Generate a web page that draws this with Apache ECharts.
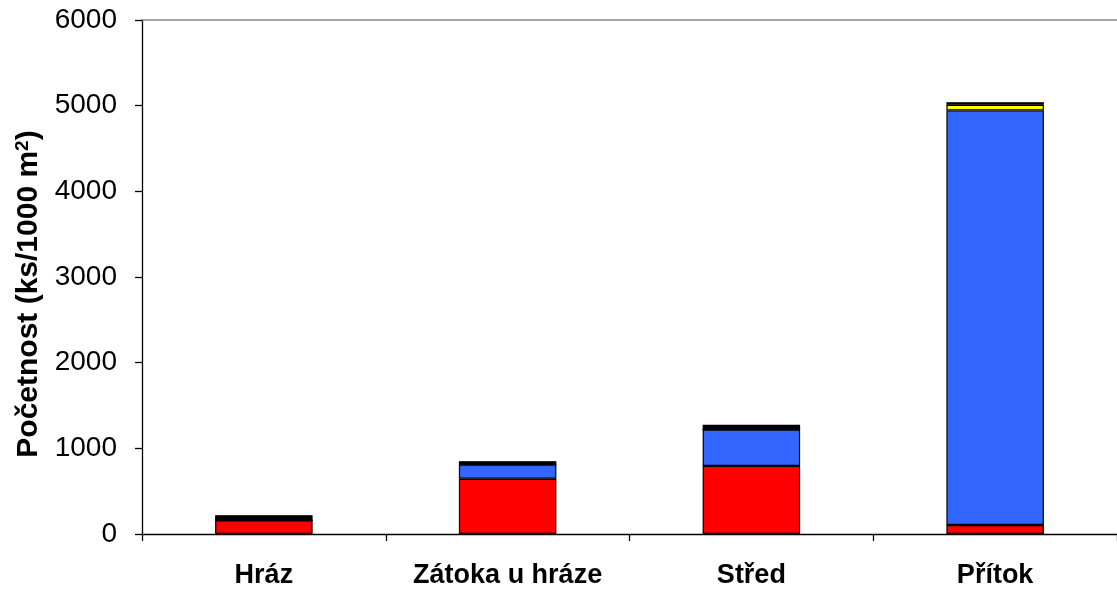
<!DOCTYPE html>
<html>
<head>
<meta charset="utf-8">
<script src="https://cdn.jsdelivr.net/npm/echarts@6/dist/echarts.min.js"></script>
<style>
  html,body{margin:0;padding:0;background:#fff;}
  #chart{width:1117px;height:591px;}
</style>
</head>
<body>
<div id="chart"></div>
<script>
  // lokality
  var categories=["Hráz","Zátoka u hráze","Střed","Přítok"];
  // hodnoty jednotlivých složek (ks/1000 m2)
  var redValues=[160,645,795,105];
  var blueValues=[0,165,425,4840];
  var yellowValues=[0,0,0,65];
  var blackValues=[60,40,55,30];
  var yTicks=[0,1000,2000,3000,4000,5000,6000];

  var font="'Liberation Sans', Arial, sans-serif";
  var makeSeries=function(name,data,color){
    return {
      name:name,
      type:'bar',
      stack:'total',
      barWidth:'40%',
      data:data,
      itemStyle:{color:color,borderColor:'#000',borderWidth:1.2},
      animation:false
    };
  };

  var chart=echarts.init(document.getElementById("chart"));
  chart.setOption({
    animation:false,
    grid:{left:142,right:0,top:20,bottom:57,containLabel:false},
    xAxis:[
      {
        type:'category',
        data:categories,
        axisLine:{lineStyle:{color:'#000',width:1.3}},
        axisTick:{show:true,interval:0,length:7,inside:false,alignWithLabel:false,lineStyle:{color:'#000',width:1.3}},
        axisLabel:{interval:0,color:'#000',fontFamily:font,fontSize:27,fontWeight:'bold',margin:28}
      },
      {
        type:'category',
        position:'top',
        data:categories,
        axisLine:{show:true,lineStyle:{color:'#888',width:1.5}},
        axisTick:{show:false},
        axisLabel:{show:false}
      }
    ],
    yAxis:{
      type:'value',
      min:yTicks[0],
      max:yTicks[yTicks.length-1],
      interval:1000,
      name:'Početnost (ks/1000 m{sup|2})',
      nameLocation:'middle',
      nameGap:96,
      nameTextStyle:{
        color:'#000',fontFamily:font,fontSize:30,fontWeight:'bold',
        padding:[0,34,0,0],
        rich:{sup:{color:'#000',fontFamily:font,fontSize:19,fontWeight:'bold',verticalAlign:'top',padding:[0,0,13,0]}}
      },
      axisLine:{show:true,lineStyle:{color:'#000',width:1.3}},
      axisTick:{show:true,length:7,lineStyle:{color:'#000',width:1.3}},
      splitLine:{show:false},
      axisLabel:{
        color:'#000',fontFamily:font,fontSize:28,margin:25,
        formatter:function(v){return String(v);}
      }
    },
    series:[
      makeSeries('červená',redValues,'#ff0000'),
      makeSeries('modrá',blueValues,'#3366ff'),
      makeSeries('žlutá',yellowValues,'#ffff00'),
      makeSeries('černá',blackValues,'#000000')
    ]
  });
</script>
</body>
</html>
